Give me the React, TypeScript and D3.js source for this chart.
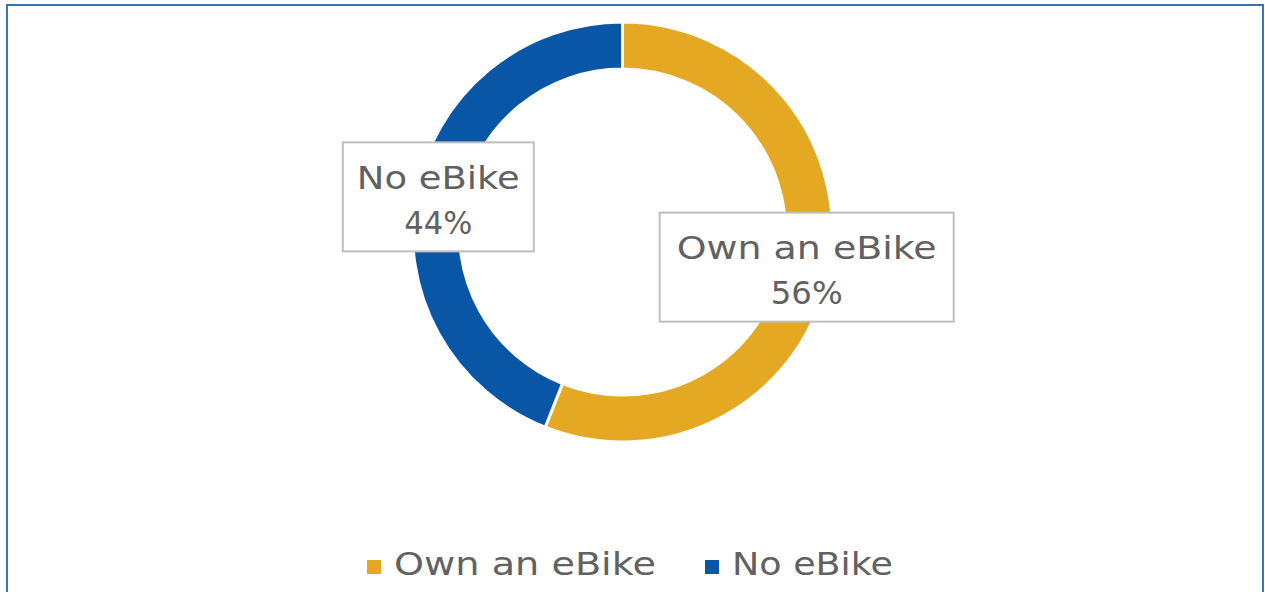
import React from "react";
import * as d3 from "d3";

const categories = ["Own an eBike", "No eBike"];
const values = [56, 44];
const colors = ["#E5A823", "#0A56A6"];

const W = 1265;
const H = 592;
const cx = 622.5;
const cy = 232;
const outerR = 210;
const innerR = 163;
const FONT = "'DejaVu Sans', sans-serif";
const TEXT_COLOR = "#616161";
const FS = 32.5;

const labelWidths = [260, 163];
const pctWidths = [72, 68];

export default function App() {
  const pie = d3.pie<number>().sort(null).value((d) => d)(values);
  const arc = d3.arc<d3.PieArcDatum<number>>().innerRadius(innerR).outerRadius(outerR);
  const labelArc = d3.arc<d3.PieArcDatum<number>>().innerRadius(165).outerRadius(210);
  const total = d3.sum(values);
  const fmt = d3.format(".0%");

  return (
    <div style={{ position: "absolute", left: 0, top: 0 }}>
      <svg width={W} height={H} style={{ display: "block" }}>
        <rect x={0} y={0} width={W} height={H} fill="#fff" />
        <rect x={7} y={5} width={1256} height={620} fill="#fff" stroke="#3573BA" strokeWidth={2} />
        <g transform={`translate(${cx},${cy})`}>
          {pie.map((p, i) => (
            <path key={i} d={arc(p) || ""} fill={colors[i]} stroke="#fff" strokeWidth={3} />
          ))}
        </g>
        {pie.map((p, i) => {
          const [mx, my] = labelArc.centroid(p);
          const x = cx + mx;
          const y = cy + my;
          const bw = labelWidths[i] + (i === 0 ? 34 : 28);
          const bh = 109;
          return (
            <g key={i}>
              <rect x={x - bw / 2} y={y - bh / 2} width={bw} height={bh} fill="#fff" stroke="#BFBFBF" strokeWidth={2} />
              <text
                x={x}
                y={y - 8}
                textAnchor="middle"
                fontFamily={FONT}
                fontSize={FS}
                fill={TEXT_COLOR}
                textLength={labelWidths[i]}
                lengthAdjust="spacingAndGlyphs"
              >
                {categories[i]}
              </text>
              <text
                x={x}
                y={y + 37}
                textAnchor="middle"
                fontFamily={FONT}
                fontSize={FS}
                fill={TEXT_COLOR}
                textLength={pctWidths[i]}
                lengthAdjust="spacingAndGlyphs"
              >
                {fmt(values[i] / total)}
              </text>
            </g>
          );
        })}
        {/* Legend */}
        {categories.map((c, i) => {
          const sx = i === 0 ? 367 : 705;
          return (
            <g key={c}>
              <rect x={sx} y={560} width={14} height={14} fill={colors[i]} />
              <text
                x={sx + 27}
                y={575}
                fontFamily={FONT}
                fontSize={FS}
                fill={TEXT_COLOR}
                textLength={labelWidths[i] + (i === 0 ? 2 : -2)}
                lengthAdjust="spacingAndGlyphs"
              >
                {c}
              </text>
            </g>
          );
        })}
      </svg>
    </div>
  );
}
